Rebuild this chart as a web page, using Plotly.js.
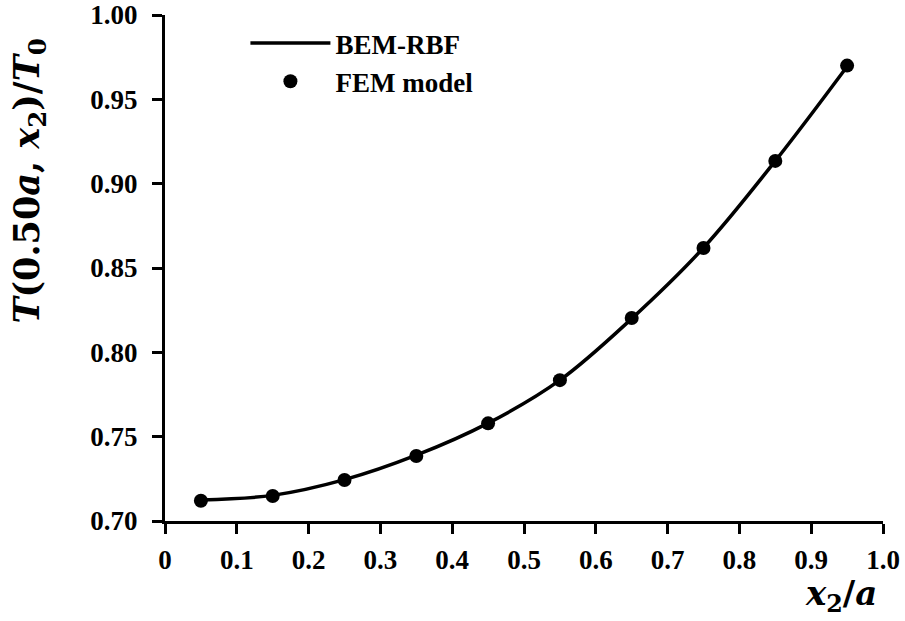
<!DOCTYPE html>
<html>
<head>
<meta charset="utf-8">
<script src="https://cdn.plot.ly/plotly-3.0.1.min.js"></script>
<style>html,body{margin:0;padding:0;background:#fff;}#chart{width:905px;height:621px;}</style>
</head>
<body>
<div id="chart"></div>
<script>
// Data
const xPos = [0.05, 0.15, 0.25, 0.35, 0.45, 0.55, 0.65, 0.75, 0.85, 0.95];
const bemRbf = [0.7125, 0.7152, 0.7245, 0.7390, 0.7580, 0.7835, 0.8200, 0.8620, 0.9135, 0.9695];
const femModel = [0.712, 0.7148, 0.7243, 0.7385, 0.7579, 0.7835, 0.8204, 0.8619, 0.9135, 0.970];
const xTicks = [0, 0.1, 0.2, 0.3, 0.4, 0.5, 0.6, 0.7, 0.8, 0.9, 1.0];
const xTickText = ['0', '0.1', '0.2', '0.3', '0.4', '0.5', '0.6', '0.7', '0.8', '0.9', '1.0'];
const yTicks = [0.70, 0.75, 0.80, 0.85, 0.90, 0.95, 1.00];
const yTickText = ['0.70', '0.75', '0.80', '0.85', '0.90', '0.95', '1.00'];

const serif = '"Liberation Serif", "Times New Roman", serif';
const mathFont = '"DejaVu Serif", "Liberation Serif", serif';

const traces = [
  {
    x: xPos, y: bemRbf, name: 'BEM-RBF', type: 'scatter', mode: 'lines',
    line: {color: '#000', width: 3.5, shape: 'spline'}
  },
  {
    x: xPos, y: femModel, name: 'FEM model', type: 'scatter', mode: 'markers',
    marker: {color: '#000', size: 14}
  }
];

const axisCommon = {
  showline: true, linecolor: '#000', linewidth: 3,
  ticks: 'outside', ticklen: 10, tickwidth: 3, tickcolor: '#000',
  showgrid: false, zeroline: false, mirror: false,
  tickfont: {family: serif, size: 27, color: '#000', weight: 'bold'}
};

const layout = {
  width: 905, height: 621,
  margin: {l: 165, r: 22, t: 15, b: 100},
  paper_bgcolor: '#fff', plot_bgcolor: '#fff',
  showlegend: true,
  legend: {
    x: 0.112, y: 0.992, xanchor: 'left', yanchor: 'top',
    bgcolor: 'rgba(0,0,0,0)', borderwidth: 0,
    font: {family: serif, size: 27, color: '#000', weight: 'bold'},
    itemwidth: 80, tracegroupgap: 0
  },
  xaxis: Object.assign({}, axisCommon, {
    range: [0, 1.0], tickmode: 'array', tickvals: xTicks, ticktext: xTickText,
    ticklabelstandoff: 3
  }),
  yaxis: Object.assign({}, axisCommon, {
    range: [0.70, 1.00], tickmode: 'array', tickvals: yTicks, ticktext: yTickText,
    ticklabelstandoff: 9
  }),
  annotations: [
    {
      xref: 'paper', yref: 'paper', x: -0.19, y: 0.672,
      xanchor: 'center', yanchor: 'middle', textangle: -90, showarrow: false,
      text: '<b><i>T</i>(0.50<i>a</i>, <i>x</i><sub>2</sub>)/<i>T</i><sub>0</sub></b>',
      font: {family: mathFont, size: 35, color: '#000'}
    },
    {
      xref: 'paper', yref: 'paper', x: 0.9415, y: -0.148,
      xanchor: 'center', yanchor: 'middle', showarrow: false,
      text: '<b><i>x</i><sub>2</sub>/<i>a</i></b>',
      font: {family: mathFont, size: 34, color: '#000'}
    }
  ]
};

Plotly.newPlot('chart', traces, layout, {displayModeBar: false, staticPlot: true});
</script>
</body>
</html>
